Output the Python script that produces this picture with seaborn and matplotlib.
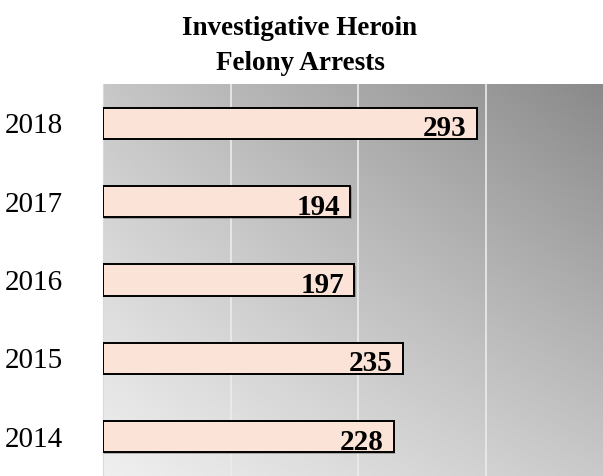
import numpy as np
import pandas as pd
import seaborn as sns
import matplotlib.pyplot as plt
import matplotlib.patheffects as pe
from matplotlib.ticker import FixedLocator

# dados do gráfico
anos = ["2018", "2017", "2016", "2015", "2014"]
prisoes = [293, 194, 197, 235, 228]
titulo = "Investigative Heroin\nFelony Arrests"

df = pd.DataFrame({"Ano": anos, "Prisões": prisoes})

sns.set_style("white")
plt.rcParams["font.family"] = ["Liberation Serif", "DejaVu Serif"]

fig = plt.figure(figsize=(6.03, 4.76), dpi=100)
ax = fig.add_axes([103 / 603, 0, 500 / 603, 392 / 476])

# fundo em degradê (cantos: baixo-esq, baixo-dir, cima-esq, cima-dir)
gx, gy = np.meshgrid(np.linspace(0, 1, 300), np.linspace(1, 0, 300))
c_be, c_bd, c_ce, c_cd = 0.94, 0.79, 0.78, 0.54
cinza = (c_be * (1 - gx) * (1 - gy) + c_bd * gx * (1 - gy)
         + c_ce * (1 - gx) * gy + c_cd * gx * gy)
ax.imshow(np.dstack([cinza] * 3), extent=[0, 1, 0, 1],
          transform=ax.transAxes, aspect="auto", zorder=0)

sns.barplot(data=df, x="Prisões", y="Ano", order=anos, orient="h", ax=ax,
            color="#fbe4d7", edgecolor="black", linewidth=1.4, width=0.4,
            saturation=1, zorder=3)

for barra in ax.patches:
    barra.set_path_effects([pe.SimplePatchShadow(offset=(1, -1), alpha=0.35), pe.Normal()])

for i, v in enumerate(prisoes):
    ax.text(v - 8, i + 0.07, str(v), ha="right", va="center", color="black",
            fontsize=21, fontweight="bold", zorder=5)

ax.set_xlim(0, 392)
ax.set_ylim(4.5, -0.5)
ax.set_xticks([100, 200, 300])
ax.xaxis.grid(True, color="#ececec", linewidth=1.2, zorder=1)
ax.set_axisbelow(True)
ax.tick_params(axis="x", length=0, labelbottom=False)
ax.tick_params(axis="y", which="major", length=0, pad=29, labelsize=21,
               labelcolor="black")
ax.yaxis.set_minor_locator(FixedLocator(np.arange(-0.5, 5, 1)))
ax.tick_params(axis="y", which="minor", length=8, width=1.2, color="#d9d9d9")
ax.set_xlabel("")
ax.set_ylabel("")
for lado in ["top", "right", "bottom"]:
    ax.spines[lado].set_visible(False)
ax.spines["left"].set_color("#d9d9d9")

fig.text(300 / 603, 1 - 16 / 476, titulo, ha="center", va="top", color="black",
         fontsize=19.5, fontweight="bold", linespacing=1.5)

fig.savefig("out.png", dpi=100)
